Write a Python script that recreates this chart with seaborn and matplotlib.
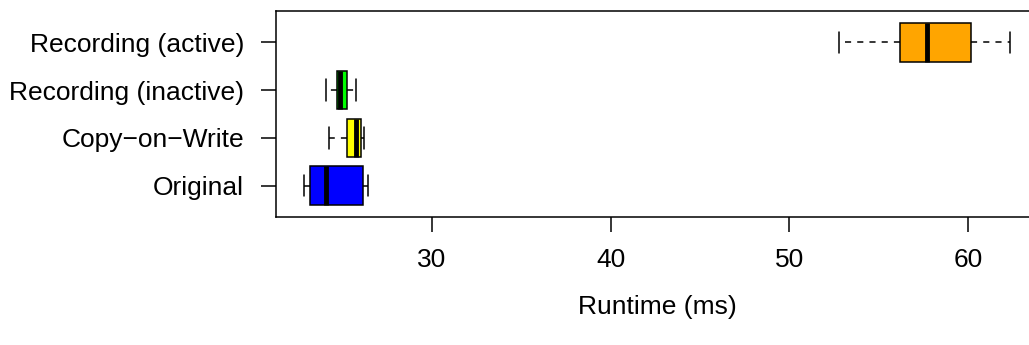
import numpy as np
import pandas as pd
import matplotlib
matplotlib.use("Agg")
import matplotlib.pyplot as plt
import seaborn as sns

categories = ["Recording (active)", "Recording (inactive)", "Copy\u2212on\u2212Write", "Original"]
lower_whisker = [52.80, 24.07, 24.23, 22.83]
q1 = [56.19, 24.66, 25.26, 23.15]
median = [57.73, 24.85, 25.74, 24.05]
q3 = [60.16, 25.26, 26.02, 26.14]
upper_whisker = [62.38, 25.74, 26.19, 26.40]
colors = ["#FFA500", "#00FF00", "#FFFF00", "#0000FF"]
x_ticks = [30, 40, 50, 60]

rows = []
for i, c in enumerate(categories):
    for v in (lower_whisker[i], q1[i], median[i], q3[i], upper_whisker[i]):
        rows.append({"category": c, "runtime": v})
df = pd.DataFrame(rows)

sns.set_style("ticks")
plt.rcParams["font.family"] = ["Liberation Sans", "DejaVu Sans"]
plt.rcParams["text.color"] = "black"
plt.rcParams["axes.labelcolor"] = "black"
plt.rcParams["xtick.color"] = "black"
plt.rcParams["ytick.color"] = "black"

fig = plt.figure(figsize=(10.29, 3.45), dpi=100)
ax = fig.add_axes([276/1029, (345-217)/345, (1038-276)/1029, 206/345])

sns.boxplot(data=df, x="runtime", y="category", hue="category", order=categories,
            hue_order=categories, palette=colors, saturation=1, legend=False, whis=np.inf,
            width=0.8, linecolor="black", linewidth=1.1, ax=ax,
            capwidths=0.45,
            medianprops=dict(color="black", linewidth=3.5, solid_capstyle="butt"),
            whiskerprops=dict(color="black", linewidth=1.1, linestyle=(0, (4, 4))),
            capprops=dict(color="black", linewidth=1.1),
            boxprops=dict(edgecolor="black", linewidth=1.1))

ax.set_xlim(21.27, 63.93)
ax.set_ylim(3.66, -0.66)
ax.set_xticks(x_ticks)
ax.set_xticklabels([str(t) for t in x_ticks])
ax.set_ylabel("")
ax.set_xlabel("Runtime (ms)", fontsize=19, labelpad=17)
ax.tick_params(axis="both", labelsize=19, length=11, width=1.1, color="black")
ax.tick_params(axis="x", pad=11)
ax.tick_params(axis="y", pad=12)
for s in ax.spines.values():
    s.set_visible(True)
    s.set_color("black")
    s.set_linewidth(1.1)

fig.savefig("out.png", dpi=100)
